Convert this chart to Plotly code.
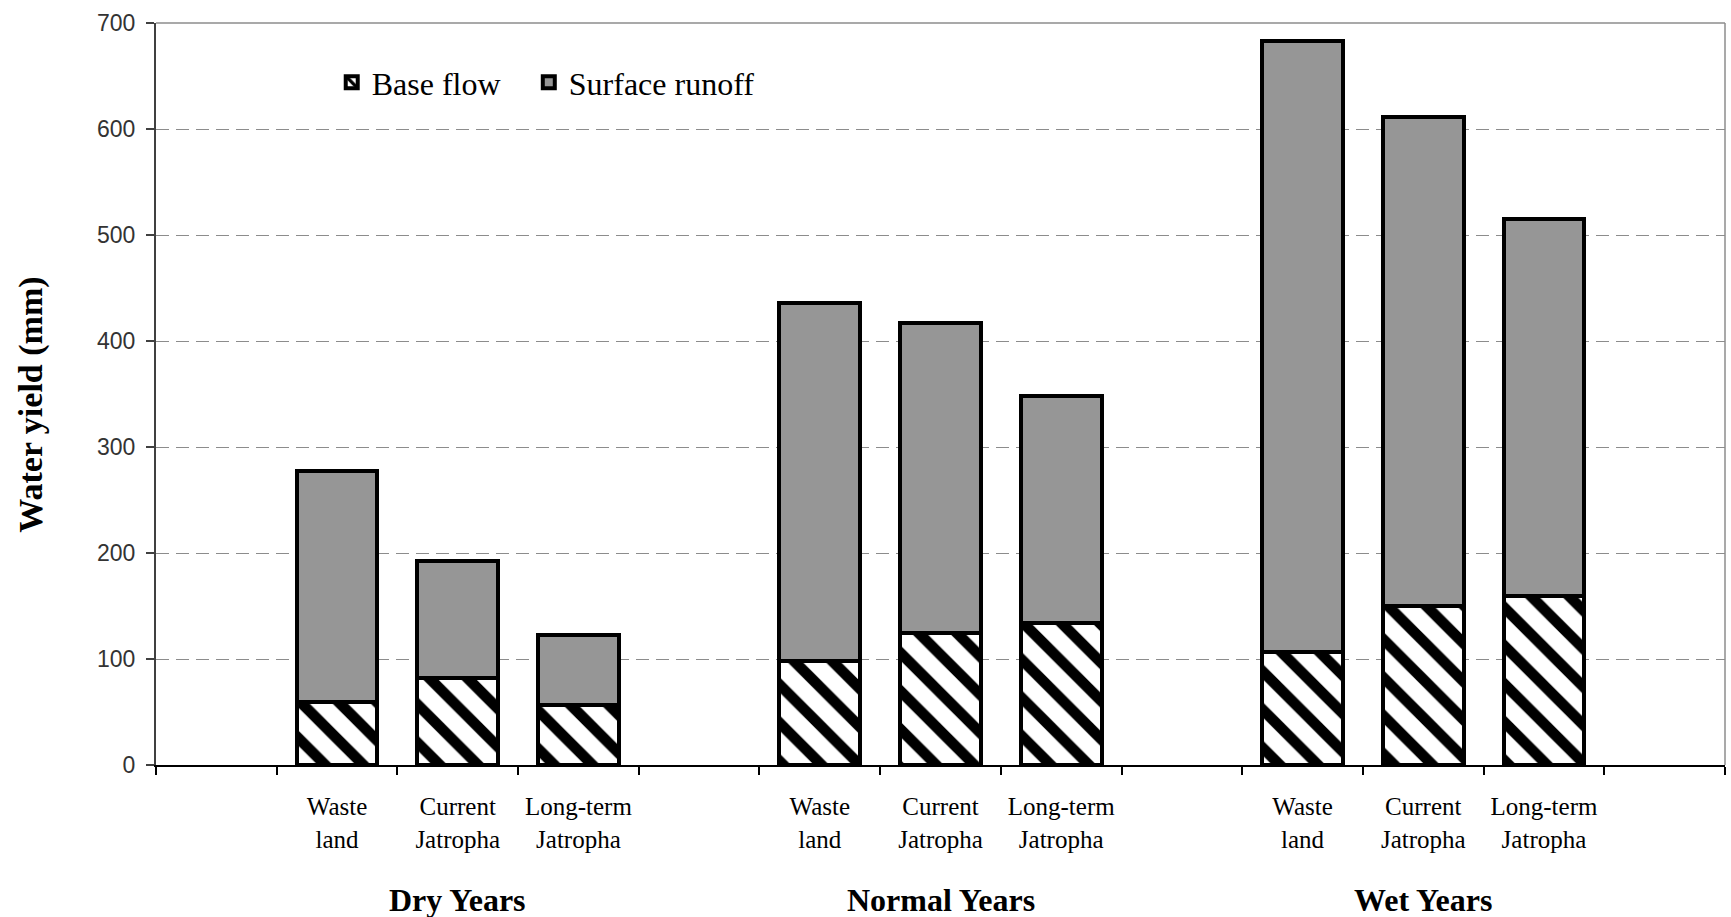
import plotly.graph_objects as go

# ---- data ----
groups = ["Dry Years", "Normal Years", "Wet Years"]
land_uses = ["Waste<br>land", "Current<br>Jatropha", "Long-term<br>Jatropha"]
base_flow = [59, 82, 57, 98, 125, 134, 107, 150, 159]
surface_runoff = [218, 110, 66, 338, 292, 214, 576, 461, 356]
y_ticks = [0, 100, 200, 300, 400, 500, 600, 700]

# ---- category slots (one empty slot before each group and one at the end) ----
slots, slot_text, bar_x, group_centre = [], [], [], []
for gi, g in enumerate(groups):
    slots.append(f"gap{gi}")
    slot_text.append("")
    for li, lu in enumerate(land_uses):
        cid = f"{g}|{lu}"
        slots.append(cid)
        slot_text.append(lu)
        bar_x.append(cid)
        if li == 1:
            group_centre.append(cid)
slots.append(f"gap{len(groups)}")
slot_text.append("")

SERIF = "Liberation Serif, Times New Roman, serif"
SANS = "Liberation Sans, Arial, sans-serif"

fig = go.Figure()
fig.add_trace(go.Bar(
    x=bar_x, y=base_flow, name="Base flow", legend="legend",
    marker=dict(color="white",
                line=dict(color="black", width=4),
                pattern=dict(shape="\\", fgcolor="black", bgcolor="white",
                             fgopacity=1, fillmode="replace",
                             size=27, solidity=0.4)),
    width=0.67,
))
fig.add_trace(go.Bar(
    x=bar_x, y=surface_runoff, name="Surface runoff", legend="legend2",
    marker=dict(color="#969696", line=dict(color="black", width=4)),
    width=0.67,
))
# invisible trace to register the empty slots on the category axis
fig.add_trace(go.Scatter(x=slots, y=[None] * len(slots), mode="markers",
                         showlegend=False, hoverinfo="skip"))

for g, c in zip(groups, group_centre):
    fig.add_annotation(x=c, xref="x", y=-0.182, yref="paper",
                       text=f"<b>{g}</b>", showarrow=False, yanchor="middle",
                       font=dict(family=SERIF, size=32, color="black"))

# y-axis title
fig.add_annotation(x=-0.0795, xref="paper", y=0.486, yref="paper",
                   text="<b>Water yield (mm)</b>", textangle=-90, showarrow=False,
                   xanchor="center", yanchor="middle",
                   font=dict(family=SERIF, size=34, color="black"))

# grey plot border on top and right
fig.add_shape(type="line", xref="paper", yref="paper", x0=0, x1=1, y0=1, y1=1,
              line=dict(color="#8c8c8c", width=1.5), layer="above")
fig.add_shape(type="line", xref="paper", yref="paper", x0=1, x1=1, y0=0, y1=1,
              line=dict(color="#8c8c8c", width=1.5), layer="above")

legend_style = dict(orientation="h", y=0.92, xanchor="left", yanchor="middle",
                    font=dict(family=SERIF, size=32, color="black"),
                    bgcolor="rgba(0,0,0,0)")

fig.update_layout(
    width=1731, height=917,
    margin=dict(l=156, r=6, t=23, b=152),
    barmode="stack",
    plot_bgcolor="white", paper_bgcolor="white",
    showlegend=True,
    legend=dict(x=0.112, **legend_style),
    legend2=dict(x=0.2376, **legend_style),
    xaxis=dict(type="category", categoryorder="array", categoryarray=slots,
               range=[-0.5, len(slots) - 0.5],
               tickmode="array", tickvals=slots, ticktext=slot_text,
               tickson="boundaries", ticks="outside", ticklen=8, tickwidth=1.5,
               tickcolor="black", showline=True, linecolor="black", linewidth=2,
               ticklabelstandoff=18,
               showgrid=False, tickfont=dict(family=SERIF, size=25, color="black")),
    yaxis=dict(range=[0, 700], tickmode="array", tickvals=y_ticks,
               ticks="outside", ticklen=8, tickcolor="#404040", tickwidth=1.5,
               showline=True, linecolor="#404040", linewidth=2,
               showgrid=True, gridcolor="#8c8c8c", gridwidth=1, griddash="13px,7px",
               zeroline=False, ticklabelstandoff=6,
               tickfont=dict(family=SANS, size=23, color="#333333")),
)

fig.write_html("out.html", post_script="document.body.style.margin='0';",
               config={"displayModeBar": False})
